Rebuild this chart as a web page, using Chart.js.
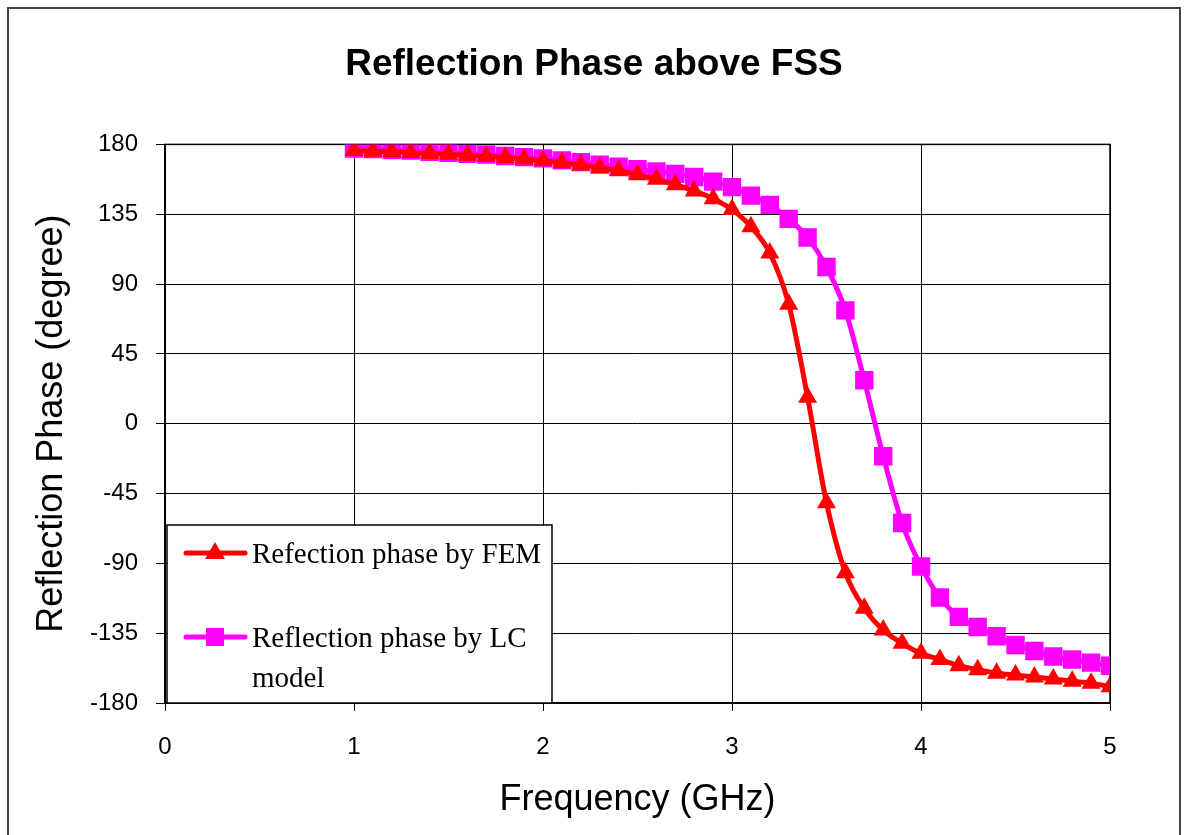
<!DOCTYPE html>
<html>
<head>
<meta charset="utf-8">
<script src="https://cdn.jsdelivr.net/npm/chart.js@4.4.1/dist/chart.umd.min.js"></script>
<style>
  html, body { margin: 0; padding: 0; background: #fff; }
  canvas { display: block; }
</style>
</head>
<body>
<canvas id="phaseChart" width="1188" height="835"></canvas>
<script>
// frequency points (GHz)
const freq = [1.0, 1.1, 1.2, 1.3, 1.4, 1.5, 1.6, 1.7, 1.8, 1.9,
              2.0, 2.1, 2.2, 2.3, 2.4, 2.5, 2.6, 2.7, 2.8, 2.9,
              3.0, 3.1, 3.2, 3.3, 3.4, 3.5, 3.6, 3.7, 3.8, 3.9,
              4.0, 4.1, 4.2, 4.3, 4.4, 4.5, 4.6, 4.7, 4.8, 4.9, 5.0];

// phase from FEM (degree)
const femPhase = [176, 175.6, 175.2, 174.7, 174.2, 173.6, 173, 172.3, 171.5, 170.6,
                  169.5, 168.2, 166.8, 165, 163, 160.5, 157.5, 154, 150, 145,
                  138, 127, 110, 77, 17, -51, -96, -119, -133, -141.5,
                  -148, -152, -156, -158.5, -160.8, -162, -163.2, -164.5, -166, -167.2, -169.5];

// phase from LC model (degree)
const lcPhase = [177.4, 177, 176.3, 176, 175.3, 174.6, 174, 173.5, 172.5, 171.8,
                 171, 169.7, 168.6, 167, 165.6, 164, 162.5, 161, 159, 156,
                 152.5, 147, 141, 132, 120, 101, 73, 28, -21, -64,
                 -92, -112, -124.5, -131, -137, -142.6, -146.5, -150, -152, -154, -156];

const yTicks = [-180, -135, -90, -45, 0, 45, 90, 135, 180];
const xTicks = [0, 1, 2, 3, 4, 5];

const legendItems = [
    { lines: ['Refection phase by FEM'], color: '#ff0000', marker: 'triangle' },
    { lines: ['Reflection phase by LC', 'model'], color: '#ff00ff', marker: 'rect' }
];

const sans = '"Liberation Sans", Arial, sans-serif';
const toXY = (ys) => freq.map((f, i) => ({ x: f, y: ys[i] }));

// white page with a thin frame around the whole chart
const frame = {
    id: 'frame',
    beforeDraw(chart) {
        const ctx = chart.ctx;
        ctx.save();
        ctx.fillStyle = '#fff';
        ctx.fillRect(0, 0, chart.width, chart.height);
        ctx.strokeStyle = '#444';
        ctx.lineWidth = 2;
        ctx.strokeRect(8, 8, chart.width - 16, chart.height + 10);
        ctx.restore();
    },
    beforeDatasetsDraw(chart) {
        const { ctx, chartArea: a } = chart;
        ctx.save();
        ctx.strokeStyle = '#000';
        ctx.lineWidth = 1.5;
        ctx.strokeRect(a.left, a.top, a.right - a.left, a.bottom - a.top);
        ctx.restore();
    }
};

// boxed legend sitting inside the lower left of the plot
const boxLegend = {
    id: 'boxLegend',
    afterDatasetsDraw(chart) {
        const ctx = chart.ctx;
        const x0 = 167, y0 = 525, w = 385, h = 178;
        ctx.save();
        ctx.fillStyle = '#fff';
        ctx.fillRect(x0, y0, w, h);
        ctx.strokeStyle = '#000';
        ctx.lineWidth = 1.5;
        ctx.strokeRect(x0, y0, w, h);
        ctx.font = '29px "Liberation Serif", "Times New Roman", serif';
        ctx.textBaseline = 'middle';
        const rows = [553, 637];
        legendItems.forEach((item, i) => {
            const y = rows[i];
            ctx.strokeStyle = item.color;
            ctx.lineWidth = 5;
            ctx.lineCap = 'round';
            ctx.beginPath();
            ctx.moveTo(186, y);
            ctx.lineTo(245, y);
            ctx.stroke();
            ctx.fillStyle = item.color;
            ctx.beginPath();
            if (item.marker === 'triangle') {
                ctx.moveTo(215, y - 11);
                ctx.lineTo(225, y + 6);
                ctx.lineTo(205, y + 6);
                ctx.closePath();
            } else {
                ctx.rect(206, y - 9, 18, 18);
            }
            ctx.fill();
            ctx.fillStyle = '#000';
            item.lines.forEach((t, k) => ctx.fillText(t, 252, y + 2 + k * 40));
        });
        ctx.restore();
    }
};

const ctx = document.getElementById('phaseChart').getContext('2d');
new Chart(ctx, {
    type: 'line',
    data: {
        datasets: [{
            label: 'Refection phase by FEM',
            data: toXY(femPhase),
            borderColor: '#ff0000',
            backgroundColor: '#ff0000',
            borderWidth: 5,
            pointStyle: 'triangle',
            pointRadius: 11,
            pointBorderWidth: 0,
            cubicInterpolationMode: 'monotone',
        }, {
            label: 'Reflection phase by LC model',
            data: toXY(lcPhase),
            borderColor: '#ff00ff',
            backgroundColor: '#ff00ff',
            borderWidth: 5,
            pointStyle: 'rect',
            pointRadius: 13,
            pointBorderWidth: 0,
            cubicInterpolationMode: 'monotone',
        }]
    },
    options: {
        responsive: false,
        animation: false,
        layout: { padding: { left: 8, right: 8, top: 8, bottom: 0 } },
        plugins: {
            legend: { display: false },
            tooltip: { enabled: false },
            title: {
                display: true,
                text: 'Reflection Phase above FSS',
                color: '#000',
                font: { family: sans, size: 37, weight: 'bold', lineHeight: 1.2 },
                padding: { top: 35, bottom: 57 },
            }
        },
        scales: {
            x: {
                type: 'linear',
                min: 0,
                max: 5,
                afterBuildTicks: (s) => { s.ticks = xTicks.map(v => ({ value: v })); },
                afterFit: (s) => { s.height = 132; },
                grid: { color: '#000', lineWidth: 1, tickLength: 8 },
                border: { color: '#000', width: 1.5 },
                ticks: {
                    color: '#000',
                    padding: 22,
                    font: { family: sans, size: 24 },
                },
                title: {
                    display: true,
                    text: 'Frequency (GHz)',
                    color: '#000',
                    font: { family: sans, size: 36, lineHeight: 1.2 },
                    padding: { top: 0, bottom: 13 },
                }
            },
            y: {
                min: -180,
                max: 180,
                afterBuildTicks: (s) => { s.ticks = yTicks.map(v => ({ value: v })); },
                afterFit: (s) => { s.width = 157; },
                grid: { color: '#000', lineWidth: 1, tickLength: 9 },
                border: { color: '#000', width: 1.5 },
                ticks: {
                    color: '#000',
                    padding: 18,
                    font: { family: sans, size: 24 },
                },
                title: {
                    display: true,
                    text: 'Reflection Phase (degree)',
                    color: '#000',
                    font: { family: sans, size: 36, lineHeight: 1.2 },
                    padding: { top: 22, bottom: 0 },
                }
            },
            // empty right-hand strip so the plot ends where the original does
            side: {
                position: 'right',
                display: true,
                afterFit: (s) => { s.width = 70; },
                grid: { display: false, drawTicks: false },
                border: { display: false },
                ticks: { display: false },
            }
        }
    },
    plugins: [frame, boxLegend]
});
</script>
</body>
</html>
